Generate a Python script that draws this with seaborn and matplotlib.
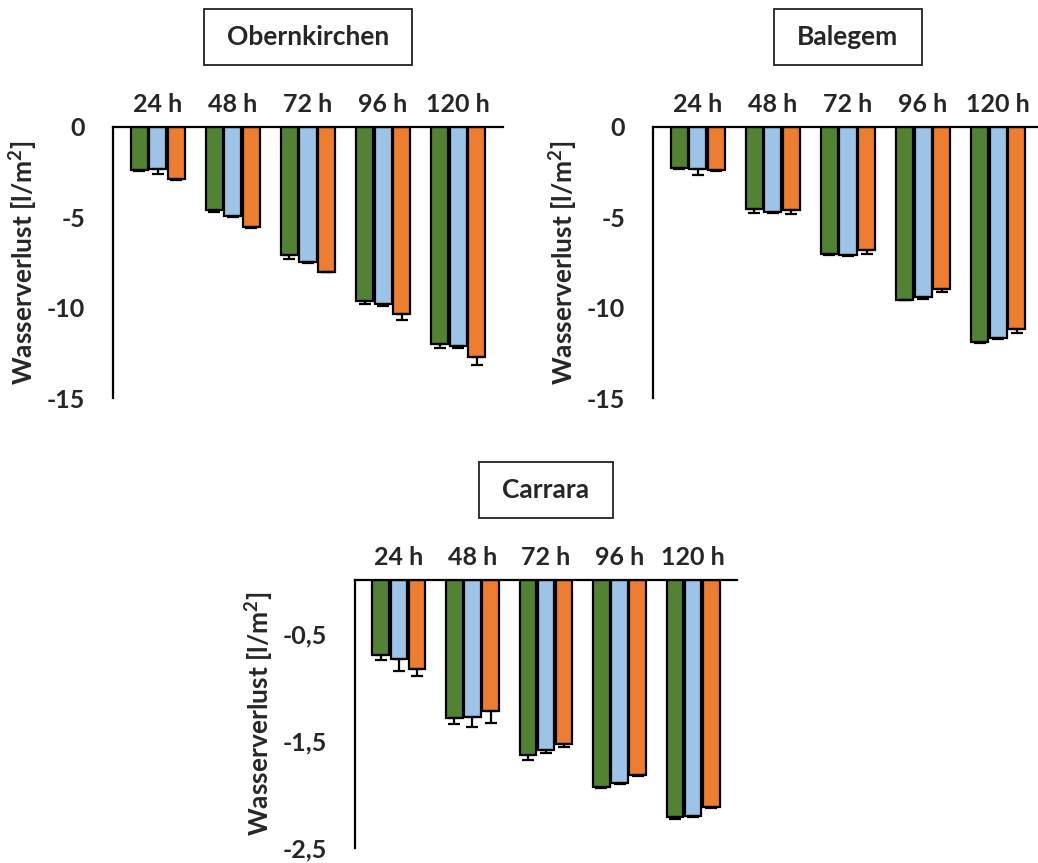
import matplotlib
matplotlib.use("Agg")
import matplotlib.pyplot as plt
import seaborn as sns
import pandas as pd
import numpy as np
from matplotlib.patches import Rectangle
from matplotlib.ticker import FuncFormatter

sns.set_theme(style="white")
plt.rcParams["font.family"] = ["Lato", "DejaVu Sans"]
plt.rcParams["font.weight"] = "bold"
plt.rcParams["mathtext.fontset"] = "custom"
plt.rcParams["mathtext.rm"] = "Lato:bold"
plt.rcParams["mathtext.bf"] = "Lato:bold"

# Time steps and the three test series per site
categories = ["24 h", "48 h", "72 h", "96 h", "120 h"]
series = ["Serie A", "Serie B", "Serie C"]
colors = ["#548235", "#9DC3E6", "#ED7D31"]

# Obernkirchen: mean water loss [l/m²] and standard deviation
obernkirchen_a = [-2.40, -4.60, -7.10, -9.65, -12.00]
obernkirchen_b = [-2.30, -4.95, -7.50, -9.80, -12.10]
obernkirchen_c = [-2.90, -5.55, -8.00, -10.35, -12.75]
obernkirchen_a_err = [0.05, 0.10, 0.20, 0.15, 0.25]
obernkirchen_b_err = [0.30, 0.05, 0.05, 0.10, 0.15]
obernkirchen_c_err = [0.05, 0.05, 0.05, 0.35, 0.40]

# Balegem
balegem_a = [-2.25, -4.55, -7.05, -9.55, -11.90]
balegem_b = [-2.35, -4.70, -7.10, -9.40, -11.70]
balegem_c = [-2.40, -4.60, -6.80, -8.95, -11.20]
balegem_a_err = [0.05, 0.20, 0.05, 0.05, 0.05]
balegem_b_err = [0.30, 0.05, 0.05, 0.10, 0.05]
balegem_c_err = [0.05, 0.20, 0.25, 0.20, 0.20]

# Carrara
carrara_a = [-0.70, -1.29, -1.63, -1.93, -2.215]
carrara_b = [-0.735, -1.275, -1.59, -1.89, -2.20]
carrara_c = [-0.83, -1.22, -1.53, -1.82, -2.12]
carrara_a_err = [0.05, 0.05, 0.05, 0.01, 0.01]
carrara_b_err = [0.11, 0.10, 0.02, 0.01, 0.01]
carrara_c_err = [0.07, 0.11, 0.03, 0.01, 0.01]

Y_LABEL = r"Wasserverlust [l/m$^{\mathbf{2}}$]"

TICK_FS = 18
LABEL_FS = 19
TITLE_FS = 19
W, H = 1038, 863
fig = plt.figure(figsize=(W / 100, H / 100), dpi=100)


def px_axes(left, top, right, bottom):
    return fig.add_axes([left / W, 1 - bottom / H, (right - left) / W, (bottom - top) / H])


def comma_fmt(v, _):
    return f"{v:g}".replace(".", ",")


def draw_panel(ax, title, vals, errs, ylim, yticks):
    df = pd.DataFrame({
        "Zeit": categories * len(series),
        "Serie": np.repeat(series, len(categories)),
        "Wert": np.concatenate(vals),
    })
    sns.barplot(data=df, x="Zeit", y="Wert", hue="Serie", order=categories,
                hue_order=series, palette=colors, saturation=1, width=0.74, gap=0.08,
                edgecolor="black", linewidth=1.6, errorbar=None, legend=False, ax=ax)
    # downward error bars at the ends of the bars
    for cont, v, e in zip(ax.containers, vals, errs):
        xs = [b.get_x() + b.get_width() / 2 for b in cont]
        ax.errorbar(xs, v, yerr=[e, np.zeros(len(e))], fmt="none", ecolor="black",
                    elinewidth=1.6, capsize=4.5, capthick=1.6, zorder=1)
    ax.set_ylim(*ylim)
    ax.set_yticks(yticks)
    ax.yaxis.set_major_formatter(FuncFormatter(comma_fmt))
    ax.xaxis.tick_top()
    ax.tick_params(axis="x", length=0, pad=8, labelsize=TICK_FS)
    ax.tick_params(axis="y", length=0, pad=20, labelsize=TICK_FS)
    for lab in ax.get_xticklabels() + ax.get_yticklabels():
        lab.set_fontweight("bold")
    ax.set_xlabel("")
    ax.set_ylabel(Y_LABEL, fontsize=LABEL_FS, fontweight="bold", labelpad=5)
    for side in ("right", "bottom"):
        ax.spines[side].set_visible(False)
    for side in ("top", "left"):
        ax.spines[side].set_visible(True)
        ax.spines[side].set_color("black")
        ax.spines[side].set_linewidth(1.6)
    ax.set_facecolor("none")

    # title in a framed box above the panel
    pos = ax.get_position()
    cx = pos.x0 + pos.width / 2
    cy = pos.y1 + 90 / H
    t = fig.text(cx, cy, title, ha="center", va="center", fontsize=TITLE_FS, fontweight="bold")
    fig.canvas.draw()
    ext = t.get_window_extent()
    bw = (ext.width + 46) / W
    bh = 56 / H
    fig.patches.append(Rectangle((cx - bw / 2, cy - bh / 2), bw, bh, transform=fig.transFigure,
                                 fill=False, edgecolor="#222222", linewidth=1.3))


ax1 = px_axes(113, 127, 503, 398)
draw_panel(ax1, "Obernkirchen",
           [obernkirchen_a, obernkirchen_b, obernkirchen_c],
           [obernkirchen_a_err, obernkirchen_b_err, obernkirchen_c_err],
           (-15, 0), [0, -5, -10, -15])

ax2 = px_axes(653, 127, 1043, 398)
draw_panel(ax2, "Balegem",
           [balegem_a, balegem_b, balegem_c],
           [balegem_a_err, balegem_b_err, balegem_c_err],
           (-15, 0), [0, -5, -10, -15])

ax3 = px_axes(355, 580, 737, 848)
draw_panel(ax3, "Carrara",
           [carrara_a, carrara_b, carrara_c],
           [carrara_a_err, carrara_b_err, carrara_c_err],
           (-2.5, 0), [-0.5, -1.5, -2.5])

fig.savefig("out.png", dpi=100, facecolor="white")
